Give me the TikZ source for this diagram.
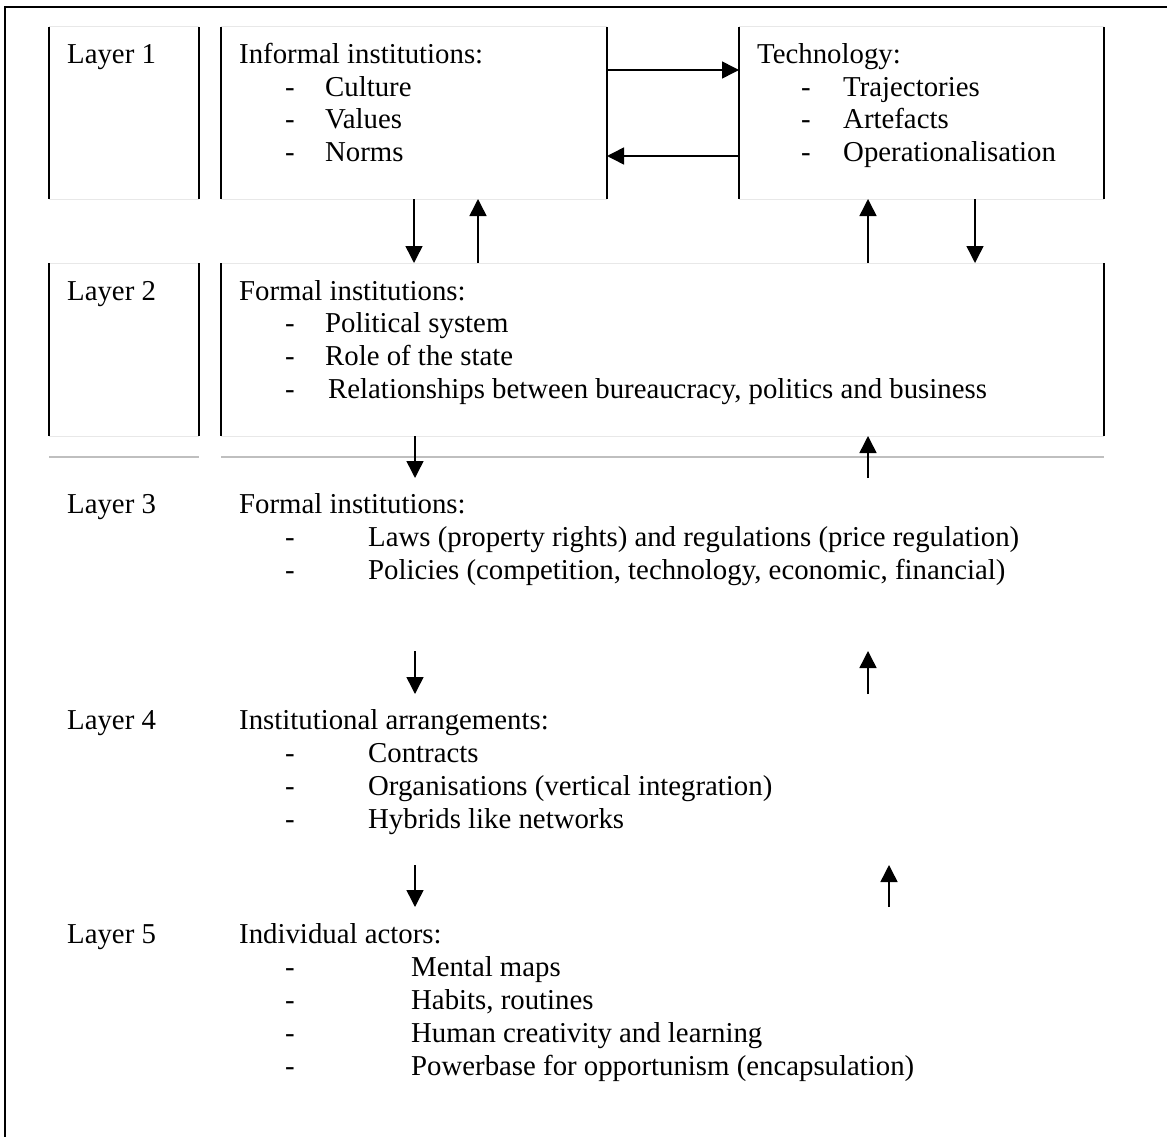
\documentclass[tikz,border=0pt]{standalone}
\usepackage{fontspec}
\setmainfont{Liberation Serif}
\usetikzlibrary{arrows.meta}
\begin{document}
\begin{tikzpicture}[x=1pt,y=-1pt,
    txt/.style={anchor=base west,inner sep=0pt,font=\fontsize{28.8pt}{33pt}\selectfont},
    frame/.style={inner sep=0pt,outer sep=0pt},
    side/.style={line width=1.8pt},
    rim/.style={draw=black!9,line width=1pt},
    rule/.style={draw=black!25,line width=1.2pt},
    arr/.style={line width=1.5pt,-{Triangle[length=17pt,width=17pt]}}]
\useasboundingbox (0,0) rectangle (1167,1137);
\draw[line width=2.8pt] (5,1137) -- (5,7) -- (1167,7);

\node[frame,minimum width=150pt,minimum height=172pt] (lay1) at (124,113) {};
\node[frame,minimum width=386pt,minimum height=172pt] (inf) at (414,113) {};
\node[frame,minimum width=365pt,minimum height=172pt] (tech) at (921.5,113) {};
\node[frame,minimum width=150pt,minimum height=173pt] (lay2) at (124,349.5) {};
\node[frame,minimum width=883pt,minimum height=173pt] (form) at (662.5,349.5) {};
\foreach \b in {lay1,inf,tech,lay2,form}{
  \draw[rim] (\b.north west) -- (\b.north east) (\b.south west) -- (\b.south east);
  \draw[side] (\b.north west) -- (\b.south west) (\b.north east) -- (\b.south east);
}
\draw[rule] ([yshift=-21pt]lay2.south west) -- ([yshift=-21pt]lay2.south east);
\draw[rule] ([yshift=-21pt]form.south west) -- ([yshift=-21pt]form.south east);

\node[txt] (l1) at (67,64) {Layer 1};
\node[txt] (inf-h) at (239,64) {Informal institutions:};
\foreach \t [count=\i] in {Culture,Values,Norms}{
  \node[txt] (inf-d\i) at (285,{64+32.4*\i}) {-};
  \node[txt] (inf-\i) at (325,{64+32.4*\i}) {\t};
}
\node[txt] (tech-h) at (757,64) {Technology:};
\foreach \t [count=\i] in {Trajectories,Artefacts,Operationalisation}{
  \node[txt] (tech-d\i) at (801,{64+32.4*\i}) {-};
  \node[txt] (tech-\i) at (843,{64+32.4*\i}) {\t};
}

\node[txt] (l2) at (67,300) {Layer 2};
\node[txt] (form-h) at (239,300) {Formal institutions:};
\foreach \x/\t [count=\i] in {325/{Political system},325/{Role of the state},328/{Relationships between bureaucracy, politics and business}}{
  \node[txt] (form-d\i) at (285,{300+32.7*\i}) {-};
  \node[txt] (form-\i) at (\x,{300+32.7*\i}) {\t};
}

\node[txt] (l3) at (67,513) {Layer 3};
\node[txt] (rule-h) at (239,513) {Formal institutions:};
\foreach \t [count=\i] in {{Laws (property rights) and regulations (price regulation)},{Policies (competition, technology, economic, financial)}}{
  \node[txt] (rule-d\i) at (285,{513+33*\i}) {-};
  \node[txt] (rule-\i) at (368,{513+33*\i}) {\t};
}

\node[txt] (l4) at (67,729) {Layer 4};
\node[txt] (arr-h) at (239,729) {Institutional arrangements:};
\foreach \t [count=\i] in {Contracts,{Organisations (vertical integration)},{Hybrids like networks}}{
  \node[txt] (arr-d\i) at (285,{729+33*\i}) {-};
  \node[txt] (arr-\i) at (368,{729+33*\i}) {\t};
}

\node[txt] (l5) at (67,943) {Layer 5};
\node[txt] (ind-h) at (239,943) {Individual actors:};
\foreach \t [count=\i] in {{Mental maps},{Habits, routines},{Human creativity and learning},{Powerbase for opportunism (encapsulation)}}{
  \node[txt] (ind-d\i) at (285,{943+33*\i}) {-};
  \node[txt] (ind-\i) at (411,{943+33*\i}) {\t};
}

\draw[arr] ([yshift=43pt]inf.east) -- ([yshift=43pt]tech.west);
\draw[arr] ([yshift=-43pt]tech.west) -- ([yshift=-43pt]inf.east);

\coordinate (u1) at ([xshift=64pt]inf.south);
\coordinate (u2) at ([xshift=-53.5pt]tech.south);
\coordinate (v2) at ([xshift=53.5pt]tech.south);
\draw[arr] (inf.south) -- (inf.south |- form.north);
\draw[arr] (u1 |- form.north) -- (u1);
\draw[arr] (u2 |- form.north) -- (u2);
\draw[arr] (v2) -- (v2 |- form.north);

\coordinate (p3) at (415,478);
\coordinate (q3) at (868,478);
\draw[arr] (p3 |- form.south) -- (p3);
\draw[arr] (q3) -- (q3 |- form.south);

\coordinate (p4a) at (415,651);
\coordinate (p4b) at (415,694);
\coordinate (q4a) at (868,694);
\coordinate (q4b) at (868,651);
\draw[arr] (p4a) -- (p4b);
\draw[arr] (q4a) -- (q4b);

\coordinate (p5a) at (415,865);
\coordinate (p5b) at (415,907);
\coordinate (q5a) at (889,907);
\coordinate (q5b) at (889,865);
\draw[arr] (p5a) -- (p5b);
\draw[arr] (q5a) -- (q5b);
\end{tikzpicture}
\end{document}
